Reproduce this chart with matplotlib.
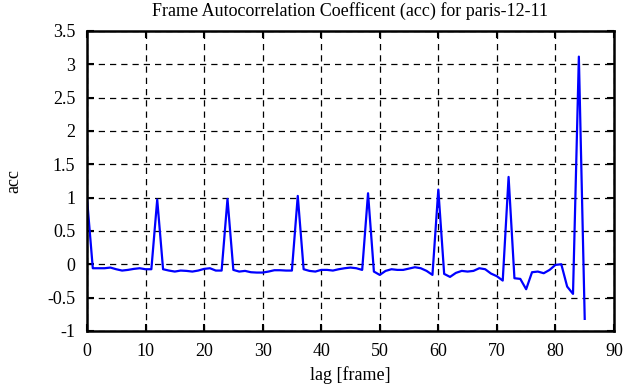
import numpy as np
import matplotlib.pyplot as plt

plt.rcParams['font.family'] = ['Liberation Serif', 'DejaVu Serif']

# lag values (frames) and autocorrelation
lag = np.arange(0, 86)
acc = [1.0, -0.06, -0.06, -0.06, -0.05, -0.075, -0.095, -0.085, -0.07, -0.06,
       -0.075, -0.075, 0.97, -0.075, -0.095, -0.11, -0.095, -0.10, -0.11, -0.095,
       -0.07, -0.06, -0.095, -0.095, 0.98, -0.085, -0.11, -0.10, -0.12, -0.125,
       -0.125, -0.11, -0.09, -0.09, -0.095, -0.095, 1.025, -0.075, -0.10, -0.11,
       -0.085, -0.085, -0.095, -0.075, -0.06, -0.05, -0.06, -0.085, 1.065, -0.11,
       -0.16, -0.10, -0.075, -0.085, -0.085, -0.065, -0.045, -0.06, -0.10, -0.16,
       1.12, -0.145, -0.19, -0.13, -0.10, -0.11, -0.10, -0.06, -0.075, -0.14,
       -0.18, -0.245, 1.31, -0.21, -0.22, -0.375, -0.12, -0.11, -0.135, -0.085,
       -0.01, 0.0, -0.335, -0.445, 3.115, -0.82]

xticks = np.arange(0, 91, 10)
yticks = [-1, -0.5, 0, 0.5, 1, 1.5, 2, 2.5, 3, 3.5]
yticklabels = ['-1', '-0.5', '0', '0.5', '1', '1.5', '2', '2.5', '3', '3.5']

fig = plt.figure(figsize=(6.3, 3.87), dpi=100)
ax = fig.add_axes([0.138, 0.145, 0.8366, 0.775])

ax.plot(lag, acc, color='#0000ff', linewidth=1.6)

ax.set_xlim(0, 90)
ax.set_ylim(-1, 3.5)
ax.set_xticks(xticks)
ax.set_yticks(yticks)
ax.set_yticklabels(yticklabels)

# gnuplot-like dashed grid and inward ticks on all sides
ax.grid(True, color='black', linestyle=(0, (5, 4)), linewidth=0.9)
ax.tick_params(direction='in', length=5, width=1.5, top=True, right=True,
               labelsize=13, colors='black')
ax.tick_params(axis='x', pad=9)
ax.tick_params(axis='y', pad=8.5)
for sp in ax.spines.values():
    sp.set_linewidth(1.8)

ax.set_title('Frame Autocorrelation Coefficent (acc) for paris-12-11',
             fontsize=13, pad=11)
ax.set_xlabel('lag [frame]', fontsize=13, labelpad=4)
ax.set_ylabel('acc', fontsize=13, labelpad=18)

fig.savefig('out.png', dpi=100)
